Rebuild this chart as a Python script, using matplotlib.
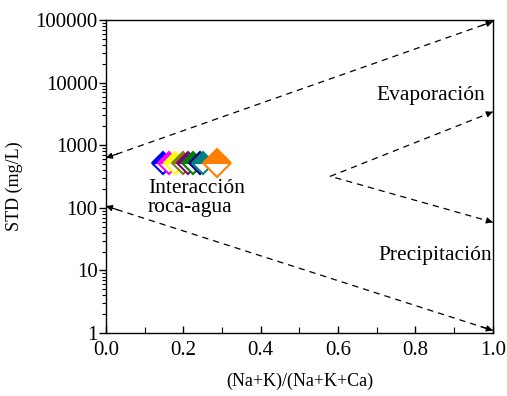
import matplotlib
matplotlib.use("Agg")
import matplotlib.pyplot as plt
from matplotlib.ticker import FixedLocator, FixedFormatter, LogLocator, NullFormatter, MultipleLocator

plt.rcParams['font.family'] = ['Liberation Serif', 'DejaVu Serif']

# samples: (Na+K)/(Na+K+Ca) ratio and total dissolved solids
ratio = [0.147, 0.163, 0.178, 0.199, 0.212, 0.225, 0.243, 0.251, 0.287]
std = [520, 520, 520, 520, 520, 520, 520, 520, 520]
colors = ['#0000FF', '#FF00FF', '#FFFF00', '#808000', '#800080',
          '#008000', '#000080', '#008080', '#FF8000']
sizes = [11, 11, 11, 11, 11, 11, 11, 11, 14]

# boundary lines of the Gibbs diagram
upper_x = [0.0, 1.0]
upper_y = [630, 95000]
lower_x = [0.0, 1.0]
lower_y = [107, 1.1]
wedge_x = [1.0, 0.58, 1.0]
wedge_y = [3430, 320, 59]

y_ticks = [1, 10, 100, 1000, 10000, 100000]
y_labels = ['1', '10', '100', '1000', '10000', '100000']

fig = plt.figure(figsize=(5.07, 3.96), dpi=100)
ax = fig.add_axes([0.209, 0.159, 0.763, 0.790])

ls = dict(color='black', lw=0.9, linestyle=(0, (5, 4)))
ax.plot(upper_x, upper_y, **ls)
ax.plot(lower_x, lower_y, **ls)
ax.plot(wedge_x, wedge_y, **ls)


def head(x0, y0, x1, y1):
    # short solid arrowhead at the end (x1, y1), oriented along the line
    fx = x0 + (x1 - x0) * 0.97
    fy = y0 * (y1 / y0) ** 0.97
    ax.annotate('', xy=(x1, y1), xytext=(fx, fy),
                arrowprops=dict(arrowstyle='-|>', color='black', lw=0.9,
                                mutation_scale=9, shrinkA=0, shrinkB=0))


head(upper_x[1], upper_y[1], upper_x[0], upper_y[0])
head(upper_x[0], upper_y[0], upper_x[1], upper_y[1])
head(lower_x[1], lower_y[1], lower_x[0], lower_y[0])
head(lower_x[0], lower_y[0], lower_x[1], lower_y[1])
head(wedge_x[1], wedge_y[1], wedge_x[0], wedge_y[0])
head(wedge_x[1], wedge_y[1], wedge_x[2], wedge_y[2])

for x, y, c, s in zip(ratio, std, colors, sizes):
    ax.plot(x, y, marker='D', ms=s, color=c, fillstyle='top',
            markerfacecoloralt='white', markeredgecolor=c, mew=1.5,
            linestyle='none')

ax.text(0.84, 6300, 'Evaporación', fontsize=15.5, ha='center', va='center')
ax.text(0.85, 17.6, 'Precipitación', fontsize=15.5, ha='center', va='center')
ax.text(0.108, 144, 'Interacción\nroca-agua', fontsize=15.5, ha='left',
        va='center', linespacing=1.05)

ax.set_yscale('log')
ax.set_xlim(0, 1)
ax.set_ylim(1, 100000)
ax.yaxis.set_major_locator(FixedLocator(y_ticks))
ax.yaxis.set_major_formatter(FixedFormatter(y_labels))
ax.yaxis.set_minor_locator(LogLocator(base=10, subs=range(2, 10)))
ax.yaxis.set_minor_formatter(NullFormatter())
ax.xaxis.set_major_locator(MultipleLocator(0.2))
ax.xaxis.set_minor_locator(MultipleLocator(0.1))
ax.xaxis.set_major_formatter(plt.FuncFormatter(lambda v, p: f'{v:.1f}'))

ax.tick_params(axis='y', which='major', direction='out', length=5, width=1, labelsize=15, pad=1)
ax.tick_params(axis='y', which='minor', direction='out', length=3, width=0.8)
ax.tick_params(axis='x', which='major', direction='in', length=5, width=1, labelsize=15, pad=6)
ax.tick_params(axis='x', which='minor', direction='in', length=4, width=0.8)
for sp in ax.spines.values():
    sp.set_linewidth(1.0)

ax.set_xlabel('(Na+K)/(Na+K+Ca)', fontsize=13, labelpad=9)
ax.set_ylabel('STD (mg/L)', fontsize=13)
ax.yaxis.set_label_coords(-0.215, 0.47)

fig.savefig('out.png', dpi=100)
